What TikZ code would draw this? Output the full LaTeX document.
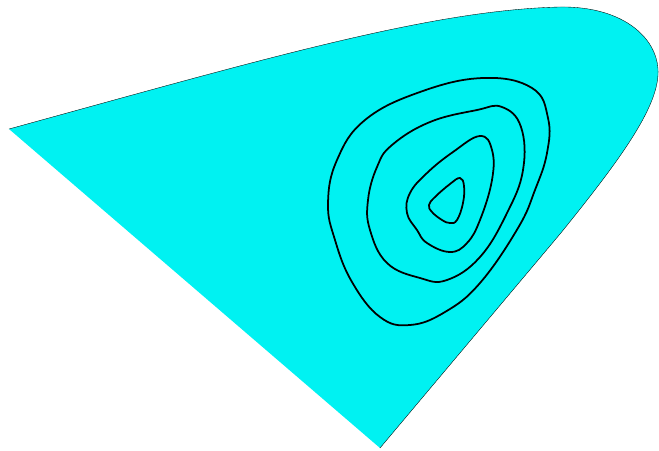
\documentclass[tikz,border=0pt]{standalone}
\usepackage{xcolor}
\usepackage{tikz}
\definecolor{regioncyan}{RGB}{0,242,242}

\begin{document}
\begin{tikzpicture}[x=0.02cm,y=-0.02cm,
  contour/.style={line width=1pt,line join=round},
  rim/.style={very thin}]
\useasboundingbox (0,0) rectangle (659,450);
% region
\coordinate (tip) at (9,129);
\coordinate (top) at (560,7);
\coordinate (east) at (658,75);
\coordinate (kink) at (560,234);
\coordinate (foot) at (380,448);
\fill[regioncyan] (tip) .. controls (260,60) and (430,10) .. (top)
  .. controls (625,6) and (660,40) .. (east)
  .. controls (656,110) and (620,160) .. (kink) -- (foot) -- cycle;
\draw[rim] (tip) .. controls (260,60) and (430,10) .. (top)
  .. controls (625,6) and (660,40) .. (east)
  .. controls (656,110) and (620,160) .. (kink) -- (foot);
% level lines
\draw[contour] plot[smooth cycle,tension=0.7] coordinates{(483,78) (532,88) (548,118) (547,153) (535,190) (518,228) (480,283) (445,312) (410,325) (380,317) (352,282) (335,240) (328,203) (337,160) (365,120) (420,92)};
\draw[contour] plot[smooth cycle,tension=0.7] coordinates{(477,110) (502,107) (521,127) (523,170) (507,213) (480,257) (447,280) (420,278) (387,263) (370,230) (368,200) (377,167) (392,145) (430,122)};
\draw[contour] plot[smooth cycle,tension=0.7] coordinates{(480,136) (492,150) (492,180) (480,220) (467,243) (450,252) (427,243) (417,230) (407,213) (410,193) (427,173) (453,152)};
\draw[contour] plot[smooth cycle,tension=0.7] coordinates{(460,178) (464,186) (463,203) (457,220) (450,223) (442,220) (432,212) (429,205) (435,197) (450,184)};
\end{tikzpicture}
\end{document}
